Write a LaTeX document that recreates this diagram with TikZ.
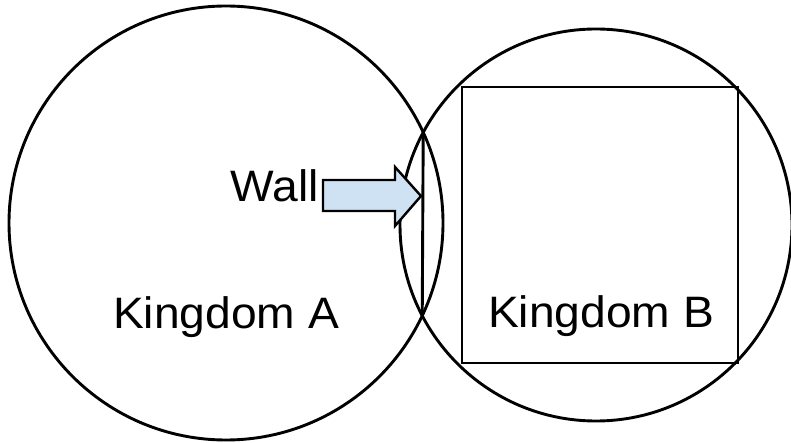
\documentclass[tikz,border=0pt]{standalone}
\usepackage{fontspec}
\setmainfont{Liberation Sans}
\usetikzlibrary{intersections}
\begin{document}
\begin{tikzpicture}[x=1pt,y=-1pt,
  ln/.style={line width=2.9pt,black},
  kingdom/.style={circle,draw,ln,inner sep=0pt},
  lbl/.style={font=\fontsize{44}{44}\selectfont,inner sep=0pt,anchor=base,xscale=1.05},
  wallarrow/.style={draw,line width=2.4pt,fill={rgb,255:red,207;green,226;blue,243},line join=miter}]
\useasboundingbox (0,0) rectangle (791,443);
\node[kingdom,minimum size=434pt] (A) at (226,223) {};
\node[kingdom,minimum size=392pt] (B) at (596,225) {};
\path[name path=ca] (226,223) circle[radius=217];
\path[name path=cb] (596,225) circle[radius=196];
\path[name intersections={of=ca and cb,by={i1,i2}}];
\draw[ln] (i1) -- (i2);
\node[draw,ln,minimum width=276pt,minimum height=276pt,inner sep=0pt] (sq) at (600,225) {};
\node[lbl] (ka) at (226,328) {Kingdom A};
\node[lbl] (kb) at (601,327) {Kingdom B};
\node[lbl,anchor=base east] (wall) at (319,202) {Wall};
\draw[wallarrow] (323,180) -- (395,180) -- (395,167) -- (421,196) -- (395,226) -- (395,211) -- (323,211) -- cycle;
\end{tikzpicture}
\end{document}
